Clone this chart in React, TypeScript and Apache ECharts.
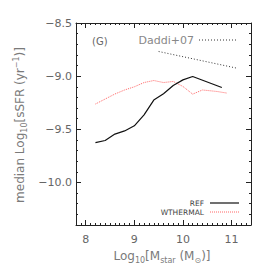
import React, { useEffect, useRef } from "react";
import * as echarts from "echarts";

const refMass = [8.2, 8.4, 8.6, 8.8, 9.0, 9.2, 9.4, 9.6, 9.8, 10.0, 10.2, 10.8];
const refSSFR = [-9.625, -9.605, -9.545, -9.515, -9.467, -9.364, -9.225, -9.165, -9.088, -9.035, -9.003, -9.107];

const wthMass = [8.2, 8.4, 8.6, 8.8, 9.0, 9.2, 9.4, 9.6, 9.8, 10.0, 10.2, 10.4, 10.7, 10.9];
const wthSSFR = [-9.262, -9.215, -9.168, -9.13, -9.1, -9.06, -9.041, -9.06, -9.05, -9.097, -9.169, -9.13, -9.144, -9.159];

const daddiMass = [9.5, 11.1];
const daddiSSFR = [-8.768, -8.924];

const xMajor = [8, 9, 10, 11];
const yMajor = [-10.0, -9.5, -9.0, -8.5];

const FONT = "DejaVu Sans";
const TXT = "#666";
const TITLE = "#7a7a7a";
const AX = "#222";

export default function App() {
  const ref = useRef<HTMLDivElement>(null);
  useEffect(() => {
    const chart = echarts.init(ref.current!, null, { renderer: "svg" });
    const zip = (a: number[], b: number[]) => a.map((v, i) => [v, b[i]]);
    const axBase = {
      type: "value",
      splitLine: { show: false },
    };
    const xCommon = { ...axBase, min: 7.8, max: 11.4 };
    const yCommon = { ...axBase, min: -10.4, max: -8.5 };
    const rich = {
      a: { fontFamily: FONT, fontSize: 12, lineHeight: 16, fill: TITLE },
      sub: { fontFamily: FONT, fontSize: 8, lineHeight: 8, verticalAlign: "bottom", fill: TITLE },
      sup: { fontFamily: FONT, fontSize: 8, lineHeight: 8, verticalAlign: "top", fill: TITLE },
    };
    chart.setOption({
      animation: false,
      grid: { left: 76, top: 23, width: 175, height: 202, containLabel: false },
      xAxis: [
        {
          ...xCommon,
          position: "bottom",
          axisLine: { show: true, lineStyle: { color: AX, width: 1 } },
          axisTick: { show: true, inside: true, length: 5, customValues: xMajor, lineStyle: { color: AX } },
          axisLabel: {
            show: true,
            customValues: xMajor,
            margin: 9,
            fontFamily: FONT,
            fontSize: 11,
            color: TXT,
            formatter: (v: number) => String(Math.round(v)),
          },
        },
        {
          ...xCommon,
          position: "bottom",
          interval: 0.1,
          axisLine: { show: false },
          axisTick: { show: true, inside: true, length: 2, lineStyle: { color: AX } },
          axisLabel: { show: false },
        },
        {
          ...xCommon,
          position: "top",
          axisLine: { show: true, lineStyle: { color: AX, width: 1 } },
          axisTick: { show: true, inside: true, length: 5, customValues: xMajor, lineStyle: { color: AX } },
          axisLabel: { show: false },
        },
        {
          ...xCommon,
          position: "top",
          interval: 0.1,
          axisLine: { show: false },
          axisTick: { show: true, inside: true, length: 2, lineStyle: { color: AX } },
          axisLabel: { show: false },
        },
      ],
      yAxis: [
        {
          ...yCommon,
          position: "left",
          axisLine: { show: true, lineStyle: { color: AX, width: 1 } },
          axisTick: { show: true, inside: true, length: 5, customValues: yMajor, lineStyle: { color: AX } },
          axisLabel: {
            show: true,
            customValues: yMajor,
            margin: 4,
            fontFamily: FONT,
            fontSize: 11,
            color: TXT,
            padding: [4, 0, 0, 0],
            formatter: (v: number) => "\u2212" + Math.abs(v).toFixed(1),
          },
        },
        {
          ...yCommon,
          position: "left",
          interval: 0.1,
          axisLine: { show: false },
          axisTick: { show: true, inside: true, length: 2, lineStyle: { color: AX } },
          axisLabel: { show: false },
        },
        {
          ...yCommon,
          position: "right",
          axisLine: { show: true, lineStyle: { color: AX, width: 1 } },
          axisTick: { show: true, inside: true, length: 5, customValues: yMajor, lineStyle: { color: AX } },
          axisLabel: { show: false },
        },
        {
          ...yCommon,
          position: "right",
          interval: 0.1,
          axisLine: { show: false },
          axisTick: { show: true, inside: true, length: 2, lineStyle: { color: AX } },
          axisLabel: { show: false },
        },
      ],
      series: [
        {
          name: "Daddi+07",
          type: "line",
          data: zip(daddiMass, daddiSSFR),
          showSymbol: false,
          lineStyle: { color: "#333", width: 1, type: [1, 2] },
        },
        {
          name: "WTHERMAL",
          type: "line",
          data: zip(wthMass, wthSSFR),
          showSymbol: false,
          lineStyle: { color: "#ff6666", width: 1, type: [1, 1] },
        },
        {
          name: "REF",
          type: "line",
          data: zip(refMass, refSSFR),
          showSymbol: false,
          lineStyle: { color: "#111", width: 1.2 },
        },
      ],
      graphic: [
        {
          type: "text",
          x: 92,
          y: 41,
          style: { text: "(G)", fontFamily: FONT, fontSize: 10, fill: TXT, verticalAlign: "middle", align: "left" },
        },
        {
          type: "text",
          x: 194,
          y: 40,
          style: { text: "Daddi+07", fontFamily: FONT, fontSize: 11, fill: "#888", verticalAlign: "middle", align: "right" },
        },
        {
          type: "line",
          shape: { x1: 199, y1: 40, x2: 236, y2: 40 },
          style: { stroke: "#333", lineWidth: 1, lineDash: [1, 2] },
        },
        {
          type: "text",
          x: 204,
          y: 203,
          style: { text: "REF", fontFamily: FONT, fontSize: 7.5, fill: "#444", verticalAlign: "middle", align: "right" },
        },
        {
          type: "line",
          shape: { x1: 210, y1: 203, x2: 239, y2: 203 },
          style: { stroke: "#111", lineWidth: 1.2 },
        },
        {
          type: "text",
          x: 204,
          y: 212,
          style: { text: "WTHERMAL", fontFamily: FONT, fontSize: 7.5, fill: "#444", verticalAlign: "middle", align: "right" },
        },
        {
          type: "line",
          shape: { x1: 210, y1: 212, x2: 239, y2: 212 },
          style: { stroke: "#ff6666", lineWidth: 1, lineDash: [1, 1] },
        },
        {
          type: "text",
          x: 162,
          y: 256,
          style: {
            text: "{a|Log}{sub|10}{a|[M}{sub|star}{a| (M}{sub|\u2299}{a|)]}",
            rich,
            fill: TITLE,
            align: "center",
            verticalAlign: "middle",
          },
        },
        {
          type: "text",
          x: 20,
          y: 125,
          rotation: Math.PI / 2,
          style: {
            text: "{a|median Log}{sub|10}{a|[sSFR (yr}{sup|\u22121}{a|)]}",
            rich,
            fill: TITLE,
            align: "center",
            verticalAlign: "middle",
          },
        },
      ],
    });
    return () => chart.dispose();
  }, []);
  return (
    <div
      ref={ref}
      style={{ position: "fixed", left: 0, top: 0, width: 274, height: 274, background: "#fff" }}
    />
  );
}
